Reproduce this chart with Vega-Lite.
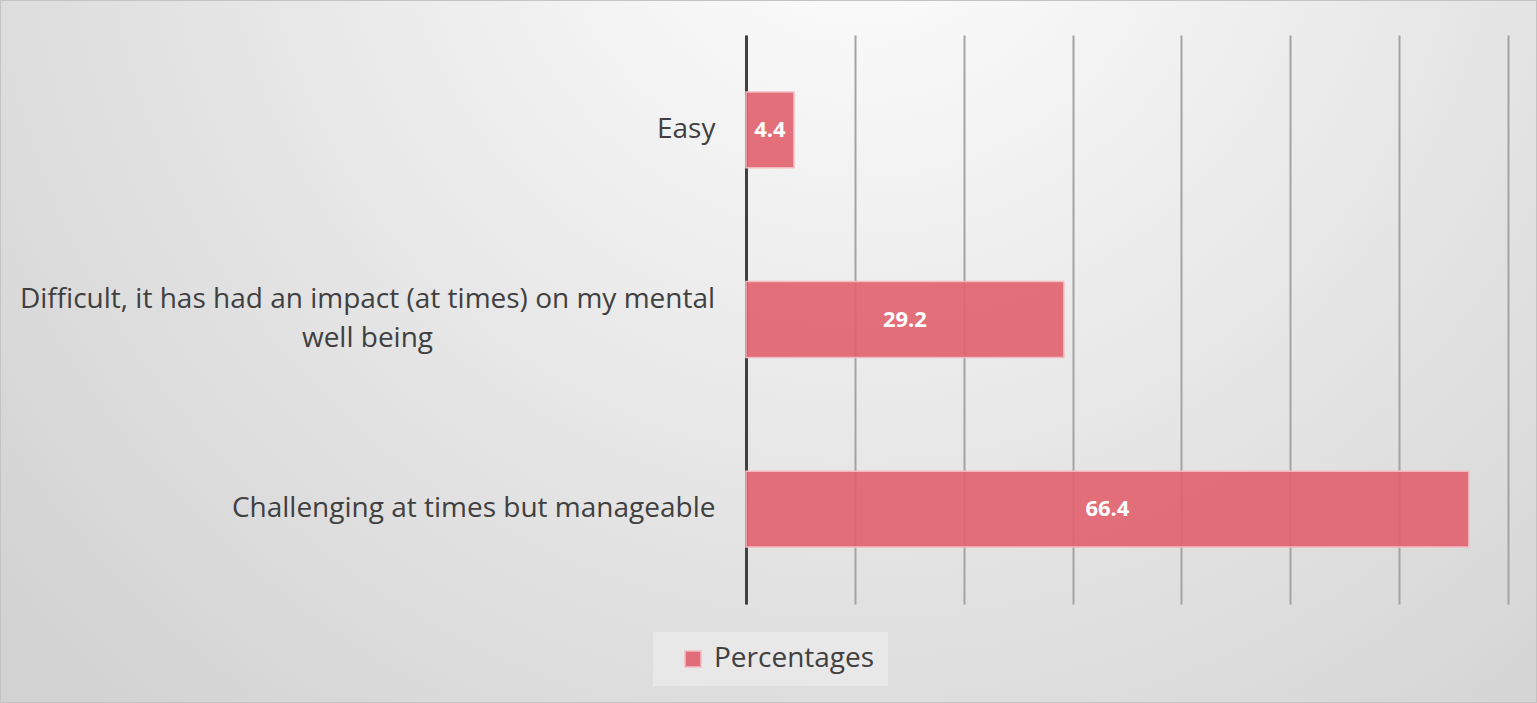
{
  "$schema": "https://vega.github.io/schema/vega-lite/v6.json",
  "width": 1537,
  "height": 703,
  "autosize": {"type": "none"},
  "padding": 0,
  "background": "#dedede",
  "config": {
    "font": "Open Sans",
    "view": {
      "fill": {
        "gradient": "radial",
        "x1": 0.56, "y1": 0.18, "r1": 0,
        "x2": 0.56, "y2": 0.18, "r2": 0.75,
        "stops": [
          {"offset": 0, "color": "#ffffff"},
          {"offset": 0.5, "color": "#e8e8e8"},
          {"offset": 1, "color": "#d2d2d2"}
        ]
      },
      "stroke": "#c4c4c4",
      "strokeWidth": 2
    }
  },
  "data": {
    "values": [
      {"answer": "Easy", "pct": 4.4, "series": "Percentages"},
      {"answer": "Difficult, it has had an impact (at times) on my mental well being", "pct": 29.2, "series": "Percentages"},
      {"answer": "Challenging at times but manageable", "pct": 66.4, "series": "Percentages"}
    ]
  },
  "encoding": {
    "y": {
      "field": "answer",
      "type": "nominal",
      "sort": null,
      "title": null,
      "scale": {"range": [35, 604], "paddingInner": 0.6, "paddingOuter": 0.3},
      "axis": {
        "offset": -746,
        "ticks": false,
        "grid": false,
        "labelPadding": {"condition": {"test": "indexof(datum.value, 'Difficult') == 0", "value": 379}, "value": 31},
        "labelAlign": {"condition": {"test": "indexof(datum.value, 'Difficult') == 0", "value": "center"}, "value": "right"},
        "labelOffset": {"condition": {"test": "indexof(datum.value, 'Difficult') == 0", "value": -20}, "value": 0},
        "domainColor": "#404040",
        "domainWidth": 3,
        "labelFontSize": 28,
        "labelColor": "#404040",
        "labelFont": "Open Sans",
        "labelLimit": 0,
        "labelLineHeight": 39,
        "labelExpr": "indexof(datum.value, 'Difficult') == 0 ? ['Difficult, it has had an impact (at times) on my mental', 'well being'] : datum.value"
      }
    }
  },
  "layer": [
    {
      "mark": {"type": "bar", "fillOpacity": 0.9, "stroke": "#f3b9be", "strokeWidth": 1.5},
      "encoding": {
        "x": {
          "field": "pct",
          "type": "quantitative",
          "title": null,
          "scale": {"domain": [0, 70], "range": [746, 1508], "nice": false},
          "axis": {
            "orient": "top",
            "values": [0, 10, 20, 30, 40, 50, 60, 70],
            "labels": false,
            "ticks": false,
            "domain": false,
            "grid": true,
            "gridScale": "y",
            "gridColor": "#a3a3a3",
            "gridWidth": 2
          }
        },
        "color": {
          "field": "series",
          "type": "nominal",
          "scale": {"range": ["#e0606c"]},
          "legend": {
            "title": null,
            "orient": "none",
            "legendX": 653,
            "legendY": 632,
            "direction": "horizontal",
            "fillColor": "#e8e8e8",
            "padding": 13,
            "symbolOffset": 13,
            "symbolType": "square",
            "symbolSize": 256,
            "symbolOpacity": 0.9,
            "symbolStrokeColor": "#f3b9be",
            "symbolStrokeWidth": 1.5,
            "labelFontSize": 28,
            "labelLimit": 0,
            "labelColor": "#404040",
            "labelFont": "Open Sans",
            "labelOffset": 7
          }
        }
      }
    },
    {
      "transform": [{"calculate": "datum.pct / 2", "as": "mid"}],
      "mark": {"type": "text", "color": "white", "fontWeight": "bold", "fontSize": 22, "font": "Open Sans"},
      "encoding": {
        "x": {"field": "mid", "type": "quantitative", "title": null},
        "text": {"field": "pct", "type": "quantitative", "format": ".1f"}
      }
    }
  ]
}
